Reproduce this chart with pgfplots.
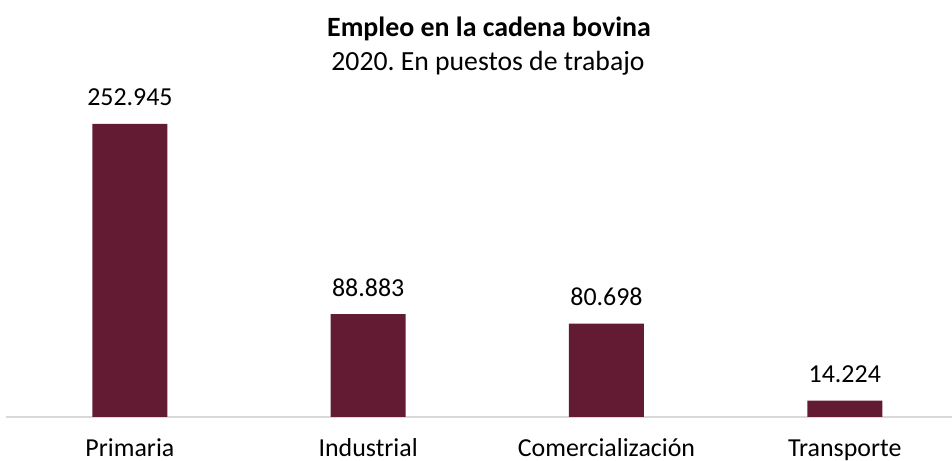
\documentclass[border=0pt]{standalone}
\usepackage{pgfplots}
\pgfplotsset{compat=1.18}
\usepackage{fontspec}
\setmainfont{Carlito}
\frenchspacing
\definecolor{barRed}{RGB}{99,27,52}
\definecolor{axGray}{RGB}{217,217,217}
\begin{document}
\begin{tikzpicture}[x=1bp,y=1bp]
\useasboundingbox (0,0) rectangle (952,461);
% title block
\node[font=\fontsize{28}{32}\selectfont\bfseries, anchor=base] at (489,424) {Empleo en la cadena bovina};
\node[font=\fontsize{27.8}{32}\selectfont, anchor=base] at (488,390) {2020. En puestos de trabajo};
\begin{axis}[
    at={(6bp,44bp)}, anchor=south west,
    scale only axis, width=946bp, height=293bp,
    ybar, bar width=75bp,
    xmin=-0.52, xmax=3.45,
    ymin=0, ymax=252945,
    axis x line*=bottom, axis y line=none,
    x axis line style={draw=axGray, line width=2bp, -},
    xtick=data, xtick style={draw=none},
    xticklabels={Primaria,Industrial,Comercialización,Transporte},
    x tick label style={font=\fontsize{26}{30}\selectfont, anchor=base, yshift=-35bp},
    clip=false,
    nodes near coords={\pgfmathprintnumber[fixed, precision=0, 1000 sep={.}, assume math mode=true]{\pgfplotspointmeta}},
    nodes near coords style={font=\fontsize{26}{30}\selectfont, black, anchor=base, yshift=18bp},
    point meta=explicit,
]
\addplot[fill=barRed, draw=none] coordinates {
    (0,252945) [252945]
    (1,88883) [88883]
    (2,80698) [80698]
    (3,14224) [14224]
};
\end{axis}
\end{tikzpicture}
\end{document}
